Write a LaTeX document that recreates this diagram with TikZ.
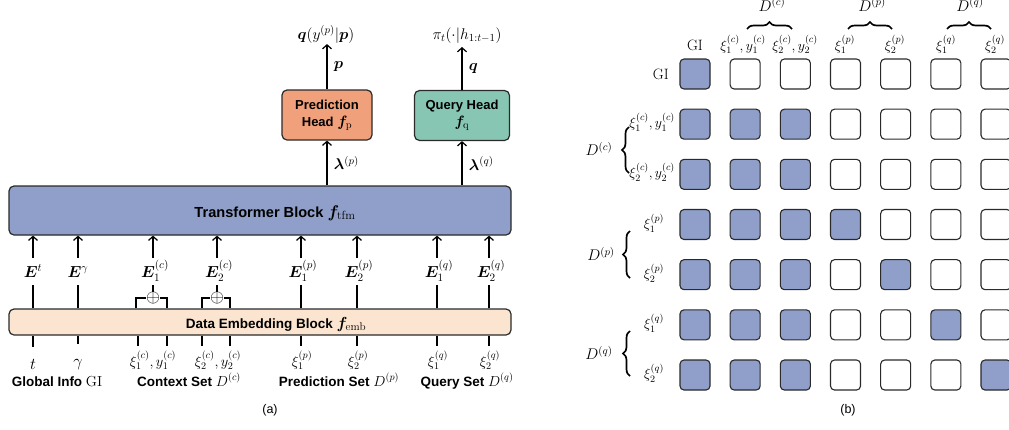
\RequirePackage{fix-cm}
\documentclass[tikz,border=0pt]{standalone}
\usepackage{amsmath}
\usepackage{bm}
\usepackage{fontspec}
\setsansfont{Liberation Sans}
\usetikzlibrary{arrows.meta,decorations.pathreplacing}
\definecolor{tfmblue}{HTML}{8F9FC9}
\definecolor{embpeach}{HTML}{FBE5D0}
\definecolor{predorange}{HTML}{F0A07A}
\definecolor{queryteal}{HTML}{86C6B2}
\definecolor{edgegray}{HTML}{2A2A2A}
\newcommand{\fs}[1]{\fontsize{#1}{#1}\selectfont}
\begin{document}
\begin{tikzpicture}[x=1pt,y=-1pt,
  blockbox/.style={draw=edgegray,line width=1.2pt,rounded corners=5pt,inner sep=0pt},
  headbox/.style={draw=edgegray,line width=1.2pt,rounded corners=5pt,minimum width=90pt,minimum height=50pt,align=center,inner sep=2pt,font=\sffamily\bfseries\fontsize{13}{17}\selectfont},
  conn/.style={line width=1.3pt},
  arr/.style={line width=1.3pt,-{Straight Barb[length=4pt,width=9pt,line width=1.2pt]}},
  elab/.style={font=\fs{16},anchor=base,text height=18pt,text depth=7pt,inner sep=1pt},
  inlab/.style={font=\fs{16.5},anchor=base,text height=21pt,text depth=2pt,inner sep=1pt},
  xilab/.style={font=\fs{14.5},anchor=base,text height=19pt,text depth=3pt,inner sep=1pt},
  setlab/.style={font=\sffamily\bfseries\fs{13.5},anchor=base,inner sep=0pt},
  cell/.style={draw=edgegray,line width=1.1pt,rounded corners=4pt,minimum size=30pt,inner sep=0pt},
  mlab/.style={font=\fs{14},inner sep=1pt},
  bigbrace/.style={decorate,decoration={brace,amplitude=7pt},line width=1.7pt},
  oplusnode/.style={inner sep=0pt,font=\fs{18}},
  sidelab/.style={right=3pt,font=\fs{15.5}}
]
\useasboundingbox (0,0) rectangle (1009,429);

% ---------------- panel (a) ----------------
\node[blockbox,fill=tfmblue,minimum width=502pt,minimum height=49pt] (tfm) at (260,210.5) {};
\node[font=\sffamily\bfseries\fs{14.6},inner sep=0pt,anchor=base] (tfmtext) at (275,217) {Transformer Block {\fs{17}$\bm{f}_{\mathrm{tfm}}$}};
\node[blockbox,fill=embpeach,minimum width=502pt,minimum height=26pt] (emb) at (260,322) {};
\node[font=\sffamily\bfseries\fs{13.5},inner sep=0pt,anchor=base] (embtext) at (276,328) {Data Embedding Block {\fs{16}$\bm{f}_{\mathrm{emb}}$}};

\node[headbox,fill=predorange] (pred) at (327,115) {Prediction\\Head {\fs{15}$\bm{f}_{\mathrm{p}}$}};
\node[headbox,fill=queryteal,minimum width=95pt] (qh) at (462,115.5) {Query Head\\{\fs{15}$\bm{f}_{\mathrm{q}}$}};

\node[font=\fs{15.5},inner sep=1pt,anchor=base] (qout) at (326,39) {$\bm{q}(y^{(p)}|\bm{p})$};
\node[font=\fs{15.5},inner sep=1pt,anchor=base] (piout) at (467,39) {$\pi_t(\cdot|h_{1:t-1})$};
\coordinate (qarrtop) at (462,47);
\draw[arr] (pred.north) -- (pred.north |- qout.south) node[midway,sidelab] {$\bm{p}$};
\draw[arr] (qh.north) -- (qarrtop) node[midway,sidelab] {$\bm{q}$};
\draw[arr] (pred.south |- tfm.north) -- (pred.south) node[midway,sidelab] {$\bm{\lambda}^{(p)}$};
\draw[arr] (qh.south |- tfm.north) -- (qh.south) node[midway,sidelab] {$\bm{\lambda}^{(q)}$};

% E labels
\node[elab] (Et) at (33,277) {$\bm{E}^{t}$};
\node[elab] (Eg) at (78,277) {$\bm{E}^{\gamma}$};
\node[elab] (Ec1) at (155,277) {$\bm{E}_1^{(c)}$};
\node[elab] (Ec2) at (219,277) {$\bm{E}_2^{(c)}$};
\node[elab] (Ep1) at (303,277) {$\bm{E}_1^{(p)}$};
\node[elab] (Ep2) at (359,277) {$\bm{E}_2^{(p)}$};
\node[elab] (Eq1) at (439,277) {$\bm{E}_1^{(q)}$};
\node[elab] (Eq2) at (491,277) {$\bm{E}_2^{(q)}$};
\coordinate (x33) at (33,0); \coordinate (x78) at (78,0);
\coordinate (x153) at (153,0); \coordinate (x217) at (217,0);
\coordinate (x301) at (301,0); \coordinate (x357) at (357,0);
\coordinate (x437) at (437,0); \coordinate (x489) at (489,0);
\foreach \n/\x in {Et/x33,Eg/x78,Ec1/x153,Ec2/x217,Ep1/x301,Ep2/x357,Eq1/x437,Eq2/x489}
  \draw[arr] (\x |- \n.north) -- (\x |- tfm.south);
\foreach \n/\x in {Et/x33,Eg/x78,Ep1/x301,Ep2/x357,Eq1/x437,Eq2/x489}
  \draw[conn] (\x |- emb.north) -- (\x |- \n.south);

% oplus brackets
\node[oplusnode] (op1) at (153,298) {$\oplus$};
\node[oplusnode] (op2) at (217,298) {$\oplus$};
\coordinate (b1l) at (136,298); \coordinate (b1r) at (167,298);
\coordinate (b2l) at (202,298); \coordinate (b2r) at (230,298);
\draw[conn] (b1l |- emb.north) -- (b1l) -- (op1.west);
\draw[conn] (op1.east) -- (b1r) -- (b1r |- emb.north);
\draw[conn] (b2l |- emb.north) -- (b2l) -- (op2.west);
\draw[conn] (op2.east) -- (b2r) -- (b2r |- emb.north);
\draw[conn] (op1.north) -- (op1.north |- Ec1.south);
\draw[conn] (op2.north) -- (op2.north |- Ec2.south);

% inputs
\node[inlab] (it) at (33,369) {$t$};
\node[inlab] (ig) at (78,366) {$\gamma$};
\node[xilab] (ic1) at (153,366) {$\xi_1^{(c)},y_1^{(c)}$};
\node[xilab] (ic2) at (218,366) {$\xi_2^{(c)},y_2^{(c)}$};
\node[xilab] (ip1) at (302,366) {$\xi_1^{(p)}$};
\node[xilab] (ip2) at (358,366) {$\xi_2^{(p)}$};
\node[xilab] (iq1) at (438,366) {$\xi_1^{(q)}$};
\node[xilab] (iq2) at (490,366) {$\xi_2^{(q)}$};
\foreach \n/\x in {it/x33,ig/x78,ip1/x301,ip2/x357,iq1/x437,iq2/x489}
  \draw[conn] (\x |- emb.south) -- (\x |- \n.north);
\coordinate (c1a) at (138,346); \coordinate (c1b) at (167,346);
\coordinate (c2a) at (202,346); \coordinate (c2b) at (230,346);
\foreach \c in {c1a,c1b,c2a,c2b}
  \draw[conn] (\c |- emb.south) -- (\c);

% set labels
\node[setlab] (sgi) at (57,386) {Global Info {\mdseries\fs{14.5}$\mathrm{GI}$}};
\node[setlab] (sc) at (189,386) {Context Set {\mdseries\fs{14.5}$D^{(c)}$}};
\node[setlab] (sp) at (339,386) {Prediction Set {\mdseries\fs{14.5}$D^{(p)}$}};
\node[setlab] (sq) at (467,386) {Query Set {\mdseries\fs{14.5}$D^{(q)}$}};
\node[font=\sffamily\fs{12.5}] (capa) at (270,410) {(a)};

% ---------------- panel (b) ----------------
\foreach \row [count=\r] in {{1,0,0,0,0,0,0},{1,1,1,0,0,0,0},{1,1,1,0,0,0,0},{1,1,1,1,0,0,0},{1,1,1,0,1,0,0},{1,1,1,0,0,1,0},{1,1,1,0,0,0,1}}{
  \foreach \v [count=\c] in \row {
    \ifnum\v=1
      \node[cell,fill=tfmblue] (m-\r-\c) at ({695+50.17*(\c-1)},{74+50.17*(\r-1)}) {};
    \else
      \node[cell,fill=white] (m-\r-\c) at ({695+50.17*(\c-1)},{74+50.17*(\r-1)}) {};
    \fi
  }
}
% column labels
\node[mlab,anchor=base,font=\fs{15}] (cgi) at (695,50) {$\mathrm{GI}$};
\node[mlab,anchor=base] (cc1) at (743,50) {$\xi_1^{(c)},y_1^{(c)}$};
\node[mlab,anchor=base] (cc2) at (795,50) {$\xi_2^{(c)},y_2^{(c)}$};
\node[mlab,anchor=base] (cp1) at (845,50) {$\xi_1^{(p)}$};
\node[mlab,anchor=base] (cp2) at (895,50) {$\xi_2^{(p)}$};
\node[mlab,anchor=base] (cq1) at (946,50) {$\xi_1^{(q)}$};
\node[mlab,anchor=base] (cq2) at (995,50) {$\xi_2^{(q)}$};
% top braces
\coordinate (tb1a) at (747,29); \coordinate (tb1b) at (792,29);
\coordinate (tb2a) at (848,29); \coordinate (tb2b) at (892,29);
\coordinate (tb3a) at (947,29); \coordinate (tb3b) at (991,29);
\draw[bigbrace] (tb1a) -- (tb1b);
\draw[bigbrace] (tb2a) -- (tb2b);
\draw[bigbrace] (tb3a) -- (tb3b);
\node[font=\fs{15.5},anchor=base,inner sep=0pt] (tdc) at (772,11) {$D^{(c)}$};
\node[font=\fs{15.5},anchor=base,inner sep=0pt] (tdp) at (872,11) {$D^{(p)}$};
\node[font=\fs{15.5},anchor=base,inner sep=0pt] (tdq) at (970,11) {$D^{(q)}$};
% row labels
\node[mlab,anchor=east,font=\fs{15}] (rgi) at (670,74) {$\mathrm{GI}$};
\node[mlab,anchor=east] (rc1) at (676,122) {$\xi_1^{(c)},y_1^{(c)}$};
\node[mlab,anchor=east] (rc2) at (676,172) {$\xi_2^{(c)},y_2^{(c)}$};
\node[mlab] (rp1) at (654,223) {$\xi_1^{(p)}$};
\node[mlab] (rp2) at (654,273) {$\xi_2^{(p)}$};
\node[mlab] (rq1) at (654,323) {$\xi_1^{(q)}$};
\node[mlab] (rq2) at (654,373) {$\xi_2^{(q)}$};
% left braces
\coordinate (lb1a) at (629,173); \coordinate (lb1b) at (629,127);
\coordinate (lb2a) at (630,278); \coordinate (lb2b) at (630,231);
\coordinate (lb3a) at (630,376); \coordinate (lb3b) at (630,331);
\draw[bigbrace] (lb1a) -- (lb1b);
\draw[bigbrace] (lb2a) -- (lb2b);
\draw[bigbrace] (lb3a) -- (lb3b);
\node[font=\fs{15.5},inner sep=0pt] (ldc) at (599,149) {$D^{(c)}$};
\node[font=\fs{15.5},inner sep=0pt] (ldp) at (601,254) {$D^{(p)}$};
\node[font=\fs{15.5},inner sep=0pt] (ldq) at (599,353) {$D^{(q)}$};
\node[font=\sffamily\fs{12.5}] (capb) at (848,410) {(b)};
\end{tikzpicture}
\end{document}
